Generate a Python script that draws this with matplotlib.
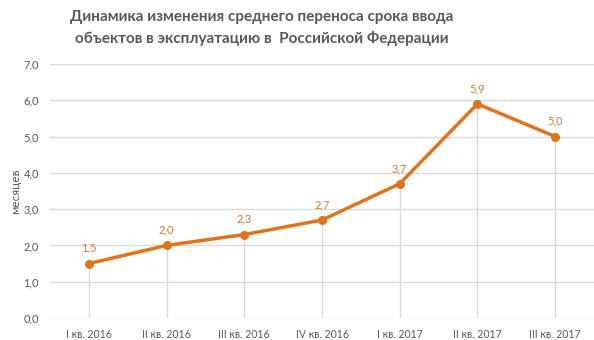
import matplotlib
matplotlib.use("Agg")
import matplotlib.pyplot as plt
from matplotlib.ticker import FuncFormatter

categories = ["I кв. 2016", "II кв. 2016", "III кв. 2016", "IV кв. 2016",
              "I кв. 2017", "II кв. 2017", "III кв. 2017"]
values = [1.5, 2.0, 2.3, 2.7, 3.7, 5.9, 5.0]
y_ticks = [0, 1, 2, 3, 4, 5, 6, 7]

title = "Динамика изменения среднего переноса срока ввода\nобъектов в эксплуатацию в  Российской Федерации"
y_label = "месяцев"

line_color = "#E2731E"
label_color = "#D9772B"
text_gray = "#595959"
grid_gray = "#D9D9D9"

plt.rcParams["font.family"] = ["Lato", "DejaVu Sans"]

fig = plt.figure(figsize=(5.94, 3.40), dpi=100)
ax = fig.add_axes([0.0842, 0.0647, 0.9158, 0.7471])

x = list(range(len(categories)))

# horizontal gridlines
for t in y_ticks:
    ax.axhline(t, color=grid_gray, lw=1.0, zorder=0)

# drop lines from each point to the axis
ax.vlines(x, 0, values, color=grid_gray, lw=1.0, zorder=1)

ax.plot(x, values, color=line_color, lw=2.5, marker="o", ms=5.5,
        solid_capstyle="round", zorder=3)

for xi, v in zip(x, values):
    ax.annotate(f"{v:.1f}".replace(".", ","), (xi, v), xytext=(0, 7),
                textcoords="offset points", ha="center", va="bottom",
                color=label_color, fontsize=8)

ax.set_xlim(-0.5, len(categories) - 0.5)
ax.set_ylim(0, 7)
ax.set_yticks(y_ticks)
ax.yaxis.set_major_formatter(FuncFormatter(lambda v, p: f"{v:.1f}".replace(".", ",")))
ax.set_xticks(x)
ax.set_xticklabels(categories)
ax.tick_params(axis="y", length=0, colors=text_gray, labelsize=8, pad=8)
ax.tick_params(axis="x", length=0, colors=text_gray, labelsize=7.6, pad=8)
for s in ax.spines.values():
    s.set_visible(False)

ax.set_ylabel(y_label, color=text_gray, fontsize=8.5, labelpad=2)

fig.text(0.44, 0.97, title, ha="center", va="top", color=text_gray,
         fontsize=11, fontweight="bold", linespacing=1.55)

fig.savefig("out.png", dpi=100)
